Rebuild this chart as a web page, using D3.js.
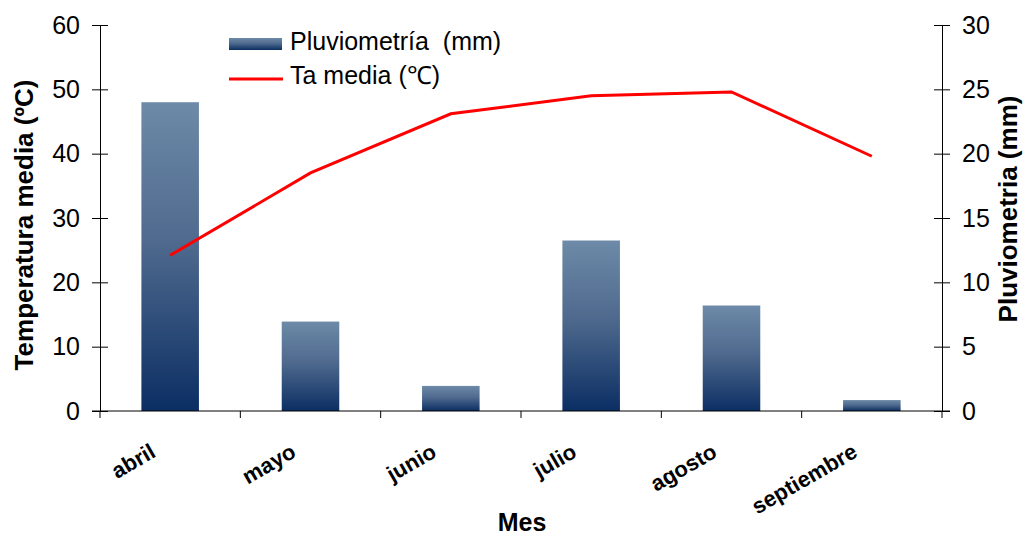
<!DOCTYPE html>
<html>
<head>
<meta charset="utf-8">
<script src="https://cdn.jsdelivr.net/npm/d3@7"></script>
<style>
  html, body { margin: 0; padding: 0; background: #fff; }
  svg { display: block; font-family: "Liberation Sans", Arial, sans-serif; }
</style>
</head>
<body>
<svg id="chart" width="1025" height="535"></svg>
<script>
// Monthly climate data
const months = ["abril", "mayo", "junio", "julio", "agosto", "septiembre"];
const rainfall = [48, 13.9, 3.9, 26.5, 16.4, 1.7];       // bars, left scale
const temperature = [12.1, 18.5, 23.1, 24.5, 24.8, 19.8]; // line, right scale
const leftTicks = [0, 10, 20, 30, 40, 50, 60];
const rightTicks = [0, 5, 10, 15, 20, 25, 30];

const svg = d3.select("#chart");
const plot = { left: 100, right: 942, top: 25, bottom: 411 };

const x = d3.scaleBand().domain(months).range([plot.left, plot.right]);
const yLeft = d3.scaleLinear().domain([0, 60]).range([plot.bottom, plot.top]);
const yRight = d3.scaleLinear().domain([0, 30]).range([plot.bottom, plot.top]);

// Vertical gradient used by each bar
const defs = svg.append("defs");
const grad = defs.append("linearGradient")
  .attr("id", "barGrad").attr("x1", 0).attr("y1", 0).attr("x2", 0).attr("y2", 1);
grad.append("stop").attr("offset", "0%").attr("stop-color", "#6d8aa8");
grad.append("stop").attr("offset", "45%").attr("stop-color", "#4f6a8e");
grad.append("stop").attr("offset", "100%").attr("stop-color", "#0b2e63");

// Bars
const barW = x.bandwidth() * 0.41;
svg.append("g").selectAll("rect")
  .data(months)
  .join("rect")
  .attr("x", (d) => x(d) + x.bandwidth() / 2 - barW / 2)
  .attr("y", (d, i) => yLeft(rainfall[i]))
  .attr("width", barW)
  .attr("height", (d, i) => yLeft(0) - yLeft(rainfall[i]))
  .attr("fill", "url(#barGrad)");

// Temperature line
const line = d3.line()
  .x((d, i) => x(months[i]) + x.bandwidth() / 2)
  .y((d) => yRight(d));
svg.append("path")
  .datum(temperature)
  .attr("d", line)
  .attr("fill", "none")
  .attr("stroke", "#ff0000")
  .attr("stroke-width", 3);

// Axes
function styleAxis(g) {
  g.selectAll("path, line").attr("stroke", "#000").attr("stroke-width", 1);
  g.selectAll("text").attr("fill", "#000").style("font-size", "25px");
}

const axL = svg.append("g")
  .attr("transform", `translate(${plot.left},0)`)
  .call(d3.axisLeft(yLeft).tickValues(leftTicks).tickSize(8).tickSizeOuter(0).tickPadding(12));
styleAxis(axL);
axL.selectAll(".tick line").attr("x2", -8).attr("x1", 8);

const axR = svg.append("g")
  .attr("transform", `translate(${plot.right},0)`)
  .call(d3.axisRight(yRight).tickValues(rightTicks).tickSize(8).tickSizeOuter(0).tickPadding(12));
styleAxis(axR);
axR.selectAll(".tick line").attr("x1", -8).attr("x2", 8);

// Category axis with boundary ticks between months
const axB = svg.append("g").attr("transform", `translate(0,${plot.bottom})`);
axB.append("line")
  .attr("x1", plot.left - 8).attr("x2", plot.right + 8)
  .attr("stroke", "#000");
const boundaries = months.map((m) => x(m)).concat([plot.right]);
axB.selectAll("line.b")
  .data(boundaries)
  .join("line")
  .attr("class", "b")
  .attr("x1", (d) => d).attr("x2", (d) => d)
  .attr("y1", 0).attr("y2", 7)
  .attr("stroke", "#000");
axB.selectAll("text")
  .data(months)
  .join("text")
  .attr("text-anchor", "end")
  .attr("transform", (d) => `translate(${x(d) + x.bandwidth() / 2 - 13},${45}) rotate(-30)`)
  .style("font-size", "22px")
  .style("font-weight", "bold")
  .text((d) => d);

// Axis titles
svg.append("text")
  .attr("transform", "translate(33,225) rotate(-90)")
  .attr("text-anchor", "middle")
  .style("font-size", "26px").style("font-weight", "bold")
  .text("Temperatura media (ºC)");
svg.append("text")
  .attr("transform", "translate(1017,209) rotate(-90)")
  .attr("text-anchor", "middle")
  .style("font-size", "26px").style("font-weight", "bold")
  .text("Pluviometria (mm)");
svg.append("text")
  .attr("x", 522).attr("y", 531)
  .attr("text-anchor", "middle")
  .style("font-size", "25px").style("font-weight", "bold")
  .text("Mes");

// Legend
const legend = svg.append("g");
legend.append("rect")
  .attr("x", 229).attr("y", 38).attr("width", 53).attr("height", 12)
  .attr("fill", "url(#barGrad)");
legend.append("text")
  .attr("x", 290).attr("y", 50)
  .style("font-size", "25px")
  .attr("xml:space", "preserve")
  .text("Pluviometría  (mm)");
legend.append("line")
  .attr("x1", 229).attr("x2", 283).attr("y1", 79).attr("y2", 79)
  .attr("stroke", "#ff0000").attr("stroke-width", 3);
legend.append("text")
  .attr("x", 290).attr("y", 84)
  .style("font-size", "25px")
  .text("Ta media (℃)");
</script>
</body>
</html>
